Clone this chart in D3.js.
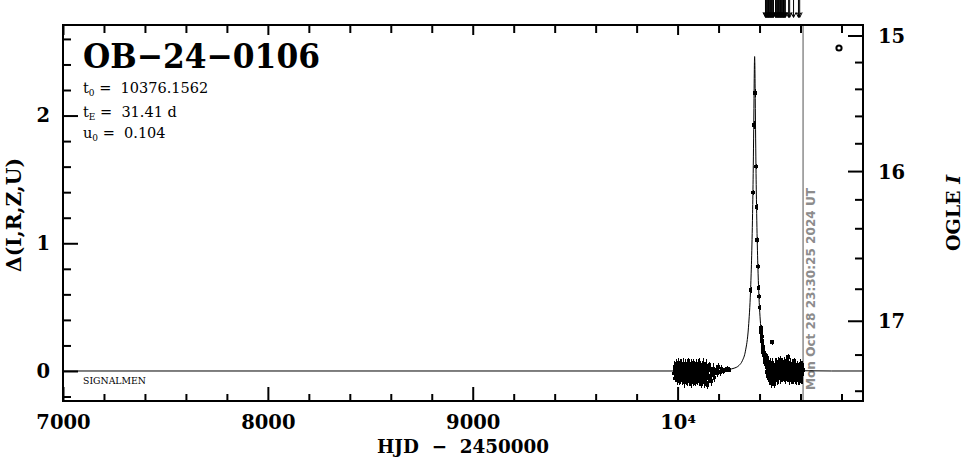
<!DOCTYPE html>
<html><head><meta charset="utf-8">
<script src="https://cdn.jsdelivr.net/npm/d3@7"></script>
<style>
html,body{margin:0;padding:0;background:#fff;}
svg{display:block;}
</style></head>
<body><svg id="chart" width="966" height="459"></svg>
<script>
// ---------------- DATA ----------------
const eventName = "OB\u221224\u22120106";
const paramT0 = "10376.1562";
const paramTE = "31.41 d";
const paramU0 = "0.104";
const observatory = "SIGNALMEN";
const nowLabel = "Mon Oct 28 23:30:25 2024 UT";
const nowT = 10612.48;

const xMajor = [7000, 8000, 9000, 10000];
const xMinor = [7200, 7400, 7600, 7800, 8200, 8400, 8600, 8800, 9200, 9400, 9600, 9800, 10200, 10400, 10600, 10800];
const yMajor = [0, 1, 2];
const yMinor = [-0.2, 0.2, 0.4, 0.6, 0.8, 1.2, 1.4, 1.6, 1.8, 2.2, 2.4, 2.6];
const ogleMajor = [15, 16, 17];
const ogleMinor = [15.2, 15.4, 15.6, 15.8, 16.2, 16.4, 16.6, 16.8, 17.2, 17.4];
const ogleI0 = 17.29;   // baseline magnitude
const ogleFs = 0.71;    // blending fraction

// model curve (HJD-2450000, Delta)
const modelT = [7000, 10000, 10150, 10200, 10250, 10276, 10286, 10301, 10316, 10331,
  10346, 10356, 10361, 10366, 10369, 10371, 10373, 10374, 10375, 10376,
  10377, 10378, 10379, 10381, 10383, 10386, 10391, 10396, 10406, 10421,
  10436, 10451, 10466, 10476, 10502, 10552, 10602, 10752, 10905];
const modelD = [0, 0, 0.002, 0.004, 0.012, 0.022, 0.028, 0.045, 0.08, 0.155,
  0.343, 0.627, 0.868, 1.232, 1.547, 1.817, 2.134, 2.291, 2.414, 2.462,
  2.414, 2.291, 2.134, 1.817, 1.547, 1.232, 0.868, 0.627, 0.343, 0.155,
  0.08, 0.045, 0.028, 0.022, 0.012, 0.004, 0.002, 0, 0];

// 2023 season photometry
const season1T = [
  9982, 9984, 9985, 9987, 9990, 9992, 9993, 9996, 9998, 10000,
  10001, 10003, 10005, 10007, 10008, 10010, 10012, 10014, 10015, 10017,
  10019, 10021, 10022, 10024, 10026, 10028, 10029, 10031, 10033, 10035,
  10036, 10038, 10040, 10042, 10043, 10045, 10047, 10049, 10050, 10052,
  10054, 10056, 10057, 10059, 10061, 10063, 10064, 10066, 10068, 10070,
  10071, 10073, 10075, 10077, 10078, 10080, 10082, 10084, 10085, 10087,
  10089, 10091, 10092, 10094, 10096, 10098, 10099, 10101, 10103, 10105,
  10106, 10108, 10110, 10112, 10113, 10115, 10117, 10119, 10120, 10122,
  10124, 10126, 10127, 10129, 10131, 10133, 10134, 10136, 10138, 10140,
  10142, 10145, 10148, 10150, 10153, 10156, 10160, 10163, 10167, 10171,
  10175, 10180, 10186, 10192, 10199, 10206, 10214, 10223, 10232, 10242, 10251];
const season1D = [
  -0.02, 0.03, -0.06, 0.01, -0.04, 0.04, -0.01, -0.07, 0.02, -0.03,
  0.05, -0.05, 0.00, -0.08, 0.03, -0.02, 0.04, -0.06, 0.01, -0.04,
  0.05, -0.01, -0.07, 0.02, -0.03, 0.06, -0.05, 0.00, -0.09, 0.03,
  -0.02, 0.05, -0.06, 0.01, -0.04, 0.04, -0.08, 0.02, -0.03, 0.06,
  -0.05, -0.01, 0.03, -0.07, 0.02, -0.10, 0.04, -0.02, -0.06, 0.03,
  -0.04, 0.05, -0.08, 0.01, -0.03, 0.04, -0.06, 0.00, -0.09, 0.03,
  -0.02, 0.05, -0.05, 0.02, -0.07, 0.04, -0.01, -0.04, 0.06, -0.03,
  0.01, -0.08, 0.03, -0.05, 0.02, -0.10, 0.00, 0.04, -0.06, 0.02,
  -0.04, 0.05, -0.09, 0.01, -0.03, 0.03, -0.07, 0.02, -0.05, 0.04,
  -0.02, -0.11, 0.01, -0.06, 0.03, -0.04, 0.02, -0.08, 0.00, -0.03,
  0.02, -0.05, 0.01, -0.02, 0.03, -0.01, 0.02, 0.00, 0.01, 0.02, 0.01];
const season1E = [
  0.04, 0.05, 0.03, 0.06, 0.04, 0.05, 0.03, 0.04, 0.06, 0.05,
  0.05, 0.04, 0.06, 0.03, 0.05, 0.04, 0.05, 0.04, 0.06, 0.03,
  0.04, 0.06, 0.04, 0.05, 0.03, 0.04, 0.05, 0.06, 0.04, 0.05,
  0.06, 0.04, 0.05, 0.03, 0.06, 0.05, 0.04, 0.05, 0.06, 0.04,
  0.04, 0.05, 0.06, 0.04, 0.05, 0.03, 0.05, 0.06, 0.04, 0.05,
  0.05, 0.04, 0.04, 0.06, 0.05, 0.04, 0.05, 0.06, 0.03, 0.04,
  0.06, 0.04, 0.05, 0.05, 0.04, 0.05, 0.06, 0.04, 0.04, 0.05,
  0.05, 0.04, 0.05, 0.06, 0.04, 0.03, 0.05, 0.04, 0.05, 0.06,
  0.04, 0.05, 0.04, 0.06, 0.05, 0.04, 0.05, 0.04, 0.06, 0.05,
  0.04, 0.03, 0.05, 0.04, 0.04, 0.05, 0.04, 0.04, 0.03, 0.04,
  0.04, 0.04, 0.04, 0.03, 0.03, 0.03, 0.03, 0.02, 0.02, 0.02, 0.02];

// 2024 season photometry: peak and decline
const peakT = [10356.3, 10367.8, 10371.9, 10378.9, 10382.7, 10385.6, 10388.7, 10392.1, 10395.6, 10397.3, 10399.9];
const peakD = [0.634, 1.396, 1.926, 2.175, 1.600, 1.284, 1.026, 0.817, 0.652, 0.582, 0.496];
const peakE = [0.02, 0.02, 0.03, 0.03, 0.02, 0.02, 0.02, 0.02, 0.02, 0.02, 0.02];

const season2T = [
  10406, 10407, 10408, 10409, 10410, 10411, 10412, 10413, 10414, 10415,
  10416, 10417, 10418, 10420, 10421, 10422, 10424, 10425, 10427, 10428,
  10430, 10431, 10433, 10434, 10436, 10437, 10439, 10441, 10442, 10444,
  10446, 10447, 10449, 10451, 10452, 10454, 10456, 10458, 10459, 10461,
  10463, 10465, 10466, 10468, 10470, 10472, 10473, 10475, 10477, 10479,
  10481, 10482, 10484, 10486, 10488, 10490, 10491, 10493, 10495, 10497,
  10499, 10500, 10502, 10504, 10506, 10508, 10509, 10511, 10513, 10515,
  10517, 10519, 10520, 10522, 10524, 10526, 10528, 10530, 10531, 10533,
  10535, 10537, 10539, 10541, 10543, 10544, 10546, 10548, 10550, 10552,
  10554, 10556, 10557, 10559, 10561, 10563, 10565, 10567, 10569, 10571,
  10573, 10575, 10577, 10579, 10581, 10583, 10585, 10587, 10589, 10591,
  10593, 10595, 10597, 10599, 10601, 10603, 10605, 10607, 10609, 10611,
  10460, 10540];
const season2D = [
  0.34, 0.32, 0.30, 0.29, 0.26, 0.27, 0.23, 0.24, 0.20, 0.22,
  0.17, 0.19, 0.15, 0.17, 0.12, 0.14, 0.10, 0.13, 0.07, 0.11,
  0.05, 0.09, 0.03, 0.08, -0.01, 0.06, 0.02, -0.04, 0.07, 0.00,
  -0.06, 0.04, -0.02, 0.05, -0.07, 0.01, -0.09, 0.03, -0.04, 0.06,
  -0.08, 0.02, -0.05, 0.04, -0.10, 0.00, -0.03, 0.05, -0.07, 0.02,
  -0.04, 0.06, -0.06, 0.01, -0.02, 0.07, -0.05, 0.03, -0.01, 0.05,
  -0.06, 0.02, 0.09, -0.03, 0.04, -0.05, 0.01, 0.06, -0.02, 0.03,
  -0.04, 0.07, 0.00, -0.06, 0.04, -0.02, 0.08, -0.03, 0.02, -0.05,
  0.05, -0.01, 0.06, -0.04, 0.02, -0.07, 0.03, 0.00, 0.06, -0.05,
  0.02, -0.03, 0.05, -0.06, 0.01, 0.04, -0.04, 0.07, -0.02, 0.03,
  -0.05, 0.05, -0.01, -0.07, 0.02, -0.03, 0.04, -0.06, 0.01, -0.04,
  0.03, -0.08, 0.00, 0.05, -0.05, 0.02, -0.06, 0.03, -0.02, 0.01,
  0.225, 0.11];
const season2E = [
  0.02, 0.02, 0.03, 0.02, 0.03, 0.02, 0.03, 0.03, 0.03, 0.02,
  0.03, 0.03, 0.04, 0.03, 0.04, 0.03, 0.04, 0.03, 0.04, 0.04,
  0.04, 0.05, 0.04, 0.05, 0.04, 0.05, 0.04, 0.05, 0.05, 0.04,
  0.05, 0.04, 0.06, 0.05, 0.04, 0.05, 0.04, 0.05, 0.06, 0.04,
  0.04, 0.05, 0.06, 0.04, 0.03, 0.05, 0.06, 0.05, 0.04, 0.05,
  0.05, 0.04, 0.05, 0.06, 0.04, 0.04, 0.05, 0.05, 0.06, 0.04,
  0.04, 0.05, 0.03, 0.06, 0.05, 0.04, 0.05, 0.04, 0.06, 0.05,
  0.05, 0.04, 0.06, 0.04, 0.05, 0.05, 0.03, 0.05, 0.06, 0.04,
  0.04, 0.05, 0.04, 0.05, 0.06, 0.04, 0.05, 0.06, 0.04, 0.05,
  0.05, 0.06, 0.04, 0.04, 0.05, 0.05, 0.06, 0.03, 0.05, 0.04,
  0.05, 0.04, 0.06, 0.04, 0.05, 0.06, 0.04, 0.05, 0.05, 0.04,
  0.04, 0.03, 0.05, 0.04, 0.05, 0.06, 0.04, 0.05, 0.04, 0.05,
  0.02, 0.02];

// alert / observation markers along the top
const arrowT = [10429, 10432, 10435, 10438, 10441, 10444, 10447, 10450, 10453, 10456, 10459, 10462, 10465, 10468,
  10478, 10481, 10484, 10487, 10490, 10493, 10496, 10499, 10502, 10505, 10508, 10511, 10514, 10517, 10520, 10523, 10526,
  10542, 10547, 10566, 10590, 10596];

// ---------------- DRAWING ----------------
const SERIF = "'DejaVu Serif', serif";
const SANS = "'DejaVu Sans', sans-serif";
const svg = d3.select("#chart");
const L = 63, R = 863, T = 25, B = 401;

const x = d3.scaleLinear().domain([7000, 10905]).range([L, R]);
const y = d3.scaleLinear().domain([-0.235, 2.709]).range([B, T]);
const deltaFromI = I => 2.5 * Math.log10((Math.pow(10, -0.4 * (I - ogleI0)) - (1 - ogleFs)) / ogleFs);

svg.append("defs").append("clipPath").attr("id", "clip")
  .append("rect").attr("x", L).attr("y", T).attr("width", R - L).attr("height", B - T);

// "now" line
svg.append("line")
  .attr("x1", x(nowT)).attr("x2", x(nowT)).attr("y1", T).attr("y2", B)
  .attr("stroke", "#8c8c8c").attr("stroke-width", 1.5);
svg.append("text")
  .attr("transform", `translate(${x(nowT) + 12},390) rotate(-90)`)
  .attr("font-family", SANS).attr("font-weight", "bold").attr("font-size", 12)
  .attr("fill", "#8c8c8c")
  .attr("textLength", 202).attr("lengthAdjust", "spacingAndGlyphs")
  .text(nowLabel);

// model
const plot = svg.append("g").attr("clip-path", "url(#clip)");
const model = modelT.map((t, i) => [t, modelD[i]]);
plot.append("path")
  .datum(model)
  .attr("fill", "none").attr("stroke", "#000").attr("stroke-width", 1)
  .attr("d", d3.line().x(d => x(d[0])).y(d => y(d[1])).curve(d3.curveMonotoneX));

// observations
const obs = [];
season1T.forEach((t, i) => obs.push({t, d: season1D[i], e: season1E[i]}));
peakT.forEach((t, i) => obs.push({t, d: peakD[i], e: peakE[i]}));
season2T.forEach((t, i) => obs.push({t, d: season2D[i], e: season2E[i]}));

const og = plot.append("g").attr("shape-rendering", "crispEdges");
og.append("g").selectAll("line").data(obs).join("line")
  .attr("x1", d => Math.round(x(d.t)) + 0.5).attr("x2", d => Math.round(x(d.t)) + 0.5)
  .attr("y1", d => y(d.d - d.e)).attr("y2", d => y(d.d + d.e))
  .attr("stroke", "#000").attr("stroke-width", 1);
const S = 3.6;
og.append("g").selectAll("rect").data(obs).join("rect")
  .attr("x", d => x(d.t) - S / 2).attr("y", d => y(d.d) - S / 2)
  .attr("width", S).attr("height", S).attr("fill", "#000");

// observatory label
svg.append("text").attr("x", 83).attr("y", 384)
  .attr("font-family", SERIF).attr("font-size", 9.5)
  .attr("textLength", 63).attr("lengthAdjust", "spacingAndGlyphs")
  .text(observatory);

// arrows on top
const ag = svg.append("g").attr("stroke", "#000").attr("stroke-width", 1).attr("fill", "none");
ag.selectAll("line").data(arrowT).join("line")
  .attr("x1", d => x(d)).attr("x2", d => x(d)).attr("y1", 0).attr("y2", 17);
ag.selectAll("path").data(arrowT).join("path")
  .attr("d", d => `M${x(d) - 2.5},12.5L${x(d)},17.5L${x(d) + 2.5},12.5`);

// axes
function styleAxis(g) {
  g.select(".domain").remove();
  g.selectAll(".tick line").attr("stroke", "#000").attr("stroke-width", 2);
  g.selectAll(".tick text").attr("font-family", SERIF).attr("font-weight", "bold")
    .attr("font-size", 19.5).attr("fill", "#000");
  g.attr("font-family", null).attr("font-size", null);
}
const fmtX = d => d === 10000 ? "10\u2074" : String(d);
svg.append("g").attr("transform", `translate(0,${B})`)
  .call(d3.axisBottom(x).tickValues(xMajor).tickSize(-14).tickSizeOuter(0).tickPadding(14).tickFormat(fmtX))
  .call(styleAxis);
svg.append("g").attr("transform", `translate(0,${B})`)
  .call(d3.axisBottom(x).tickValues(xMinor).tickSize(-7).tickSizeOuter(0).tickFormat(""))
  .call(styleAxis);
svg.append("g").attr("transform", `translate(0,${T})`)
  .call(d3.axisTop(x).tickValues(xMajor).tickSize(-10).tickSizeOuter(0).tickFormat(""))
  .call(styleAxis);
svg.append("g").attr("transform", `translate(0,${T})`)
  .call(d3.axisTop(x).tickValues(xMinor).tickSize(-8).tickSizeOuter(0).tickFormat(""))
  .call(styleAxis);
svg.append("g").attr("transform", `translate(${L},0)`)
  .call(d3.axisLeft(y).tickValues(yMajor).tickSize(-15).tickSizeOuter(0).tickPadding(13).tickFormat(d3.format("d")))
  .call(styleAxis);
svg.append("g").attr("transform", `translate(${L},0)`)
  .call(d3.axisLeft(y).tickValues(yMinor).tickSize(-8).tickSizeOuter(0).tickFormat(""))
  .call(styleAxis);

// right OGLE I axis
const rg = svg.append("g");
rg.selectAll("line.maj").data(ogleMajor).join("line").attr("class", "maj")
  .attr("x1", R - 15).attr("x2", R).attr("y1", d => y(deltaFromI(d))).attr("y2", d => y(deltaFromI(d)))
  .attr("stroke", "#000").attr("stroke-width", 2);
rg.selectAll("line.min").data(ogleMinor).join("line").attr("class", "min")
  .attr("x1", R - 8).attr("x2", R).attr("y1", d => y(deltaFromI(d))).attr("y2", d => y(deltaFromI(d)))
  .attr("stroke", "#000").attr("stroke-width", 2);
rg.selectAll("text").data(ogleMajor).join("text")
  .attr("x", 878).attr("y", d => y(deltaFromI(d))).attr("dy", "0.36em")
  .attr("font-family", SERIF).attr("font-weight", "bold").attr("font-size", 19.5)
  .text(d => d);

// legend marker
svg.append("circle").attr("cx", R - 24).attr("cy", T + 23).attr("r", 2.6)
  .attr("fill", "none").attr("stroke", "#000").attr("stroke-width", 2);

// frame
svg.append("rect").attr("x", L).attr("y", T).attr("width", R - L).attr("height", B - T)
  .attr("fill", "none").attr("stroke", "#000").attr("stroke-width", 2);

// axis titles
svg.append("text").attr("x", 463).attr("y", 453).attr("text-anchor", "middle")
  .attr("font-family", SERIF).attr("font-weight", "bold").attr("font-size", 19)
  .attr("textLength", 172).attr("lengthAdjust", "spacingAndGlyphs")
  .style("white-space", "pre")
  .text("HJD  \u2212  2450000");
svg.append("text").attr("transform", "translate(21,215) rotate(-90)").attr("text-anchor", "middle")
  .attr("font-family", SERIF).attr("font-weight", "bold").attr("font-size", 20)
  .attr("textLength", 114).attr("lengthAdjust", "spacingAndGlyphs")
  .text("\u0394(I,R,Z,U)");
const ot = svg.append("text").attr("transform", "translate(960,213) rotate(-90)").attr("text-anchor", "middle")
  .attr("font-family", SERIF).attr("font-weight", "bold").attr("font-size", 19);
ot.append("tspan").text("OGLE ");
ot.append("tspan").attr("font-style", "italic").text("I");

// title & parameters
svg.append("text").attr("x", 83).attr("y", 68)
  .attr("font-family", SERIF).attr("font-weight", "bold").attr("font-size", 34)
  .attr("textLength", 237).attr("lengthAdjust", "spacingAndGlyphs")
  .text(eventName);
function param(yy, sym, sub, val) {
  const t = svg.append("text").attr("x", 83).attr("y", yy)
    .attr("font-family", SERIF).attr("font-size", 14.5);
  t.append("tspan").text(sym);
  t.append("tspan").attr("font-size", 9).attr("dy", 3).text(sub);
  t.append("tspan").attr("dy", -3).style("white-space", "pre").text(" =  " + val);
}
param(93, "t", "0", paramT0);
param(116.5, "t", "E", paramTE);
param(138, "u", "0", paramU0);
</script>
</body></html>
